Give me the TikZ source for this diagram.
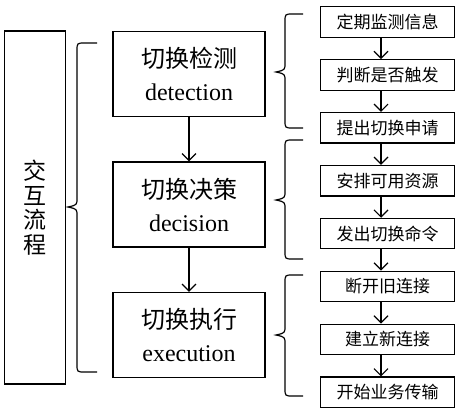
\documentclass[tikz,border=0pt]{standalone}
\usepackage{fontspec}
\setmainfont{Liberation Serif}
\newfontfamily\cjk{Noto Sans CJK SC}
\usetikzlibrary{arrows.meta}

% curly bracket: end x, body x, tip x, top y, bottom y, tip y
\newcommand{\groupbrace}[6]{%
  \draw (#1,#4) -- ({#2+8},#4) .. controls (#2,#4) .. (#2,{#4-8})
    -- (#2,{#6+9}) .. controls (#2,{#6+2}) .. (#3,#6)
    .. controls (#2,{#6-2}) .. (#2,{#6-9})
    -- (#2,{#5+8}) .. controls (#2,#5) .. ({#2+8},#5) -- (#1,#5);}

\begin{document}
\begin{tikzpicture}[x=1pt, y=1pt, line width=1.2pt,
  mainbox/.style={draw, inner sep=0pt, minimum width=152pt, minimum height=85pt,
    align=center, font=\fontsize{24}{33}\selectfont},
  stepbox/.style={draw, inner sep=0pt, minimum width=134pt, minimum height=30.5pt,
    font=\cjk\fontsize{17}{20}\selectfont},
  flow/.style={-{Straight Barb[length=7pt,width=14pt]}}]
  \useasboundingbox (0,0) rectangle (460,413);

  % left box
  \node[draw, inner sep=0pt, minimum width=61pt, minimum height=353pt, align=center,
    font=\cjk\fontsize{23}{24.5}\selectfont] (proc) at (35,205.5) {交\\互\\流\\程};

  % three phases
  \node[mainbox] (detect) at (189,339.25) {{\cjk 切换检测}\\detection};
  \node[mainbox] (decide) at (189,208.5) {{\cjk 切换决策}\\decision};
  \node[mainbox] (execute) at (189,78) {{\cjk 切换执行}\\execution};
  \draw[flow] (detect) -- (decide);
  \draw[flow] (decide) -- (execute);

  % steps
  \foreach \txt [count=\i] in {定期监测信息, 判断是否触发, 提出切换申请, 安排可用资源,
      发出切换命令, 断开旧连接, 建立新连接, 开始业务传输}
    \node[stepbox] (s\i) at (387.5,{391-52.9*(\i-1)}) {\txt};
  \foreach \i [evaluate=\i as \j using int(\i+1)] in {1,...,7}
    \draw[flow] ([xshift=-6.5pt]s\i.south) -- ([xshift=-6.5pt]s\j.north);

  % brackets
  \groupbrace{97}{77}{68}{370}{41}{206}
  \groupbrace{303}{285}{276}{399}{285}{341}
  \groupbrace{303}{285}{276}{273}{154}{213}
  \groupbrace{303}{285}{276}{138}{17}{78}
\end{tikzpicture}
\end{document}
